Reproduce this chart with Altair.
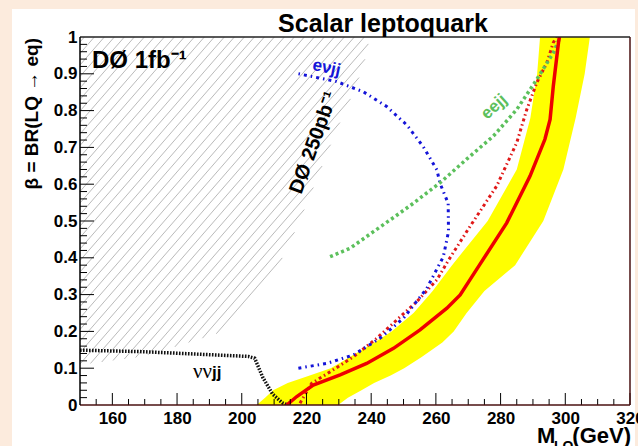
import altair as alt
import numpy as np
import pandas as pd

# ---------------- data: M_LQ (GeV) vs beta ----------------
# +-1 sigma band around the observed limit, sampled on a common beta grid
band_beta = [0.0, 0.02, 0.04, 0.06, 0.08, 0.10, 0.13, 0.17, 0.20, 0.25, 0.31, 0.38, 0.50, 0.64, 0.78, 0.90, 1.0]
band_lo = [204.6, 207.2, 209.7, 214.2, 221.0, 227.5, 233.3, 241.0, 246.3, 253.1, 259.0, 265.0, 276.0, 285.0, 289.2, 291.3, 292.2]
band_hi = [229.8, 232.8, 237.0, 240.9, 246.0, 250.2, 255.5, 262.0, 265.5, 269.5, 275.0, 284.5, 293.2, 299.4, 303.2, 306.0, 307.6]

# observed combined limit (solid red)
obs_m = [213.9, 217.0, 222.1, 230.4, 238.6, 246.9, 255.1, 263.4, 267.5, 273.6, 281.9, 289.1, 293.7, 295.3, 296.3, 297.9, 298.2]
obs_b = [0.0, 0.023, 0.054, 0.082, 0.113, 0.154, 0.204, 0.263, 0.299, 0.382, 0.495, 0.622, 0.722, 0.776, 0.867, 0.985, 1.0]

# expected combined limit (dotted red)
exp_m = [218.0, 221.6, 227.3, 234.5, 241.7, 247.9, 254.1, 260.3, 264.0, 270.6, 278.8, 285.0, 288.1, 291.2, 294.3, 296.3, 297.3]
exp_b = [0.005, 0.059, 0.090, 0.131, 0.181, 0.231, 0.281, 0.340, 0.395, 0.486, 0.595, 0.713, 0.803, 0.876, 0.930, 0.985, 1.0]

# e nu jj channel (blue)
enujj_m = [217.5, 226.3, 234.5, 242.7, 250.0, 257.2, 262.3, 263.9, 263.8, 261.3, 260.3, 256.1, 251.0, 244.8, 237.6, 229.3, 217.0]
enujj_b = [0.100, 0.113, 0.136, 0.181, 0.236, 0.317, 0.403, 0.471, 0.548, 0.602, 0.639, 0.702, 0.761, 0.811, 0.851, 0.879, 0.901]

# e e jj channel (green)
eejj_m = [227.3, 233.5, 240.7, 247.0, 253.0, 261.3, 269.5, 277.8, 285.0, 291.2, 296.3, 298.4]
eejj_b = [0.403, 0.426, 0.471, 0.510, 0.548, 0.604, 0.668, 0.731, 0.803, 0.885, 0.957, 1.0]

# nu nu jj channel (black)
nunujj_m = [150.0, 169.0, 202.0, 204.0, 206.5, 209.5, 212.5, 214.2]
nunujj_b = [0.149, 0.145, 0.132, 0.127, 0.075, 0.030, 0.006, 0.0]

# boundary of the earlier D0 250 pb^-1 exclusion (hatched)
excl_m = [150.0, 169.0, 179.4, 192.7, 200.0, 208.2, 214.4, 220.6, 225.2, 229.3, 233.5, 237.6, 239.6]
excl_b = [0.109, 0.131, 0.158, 0.195, 0.258, 0.330, 0.430, 0.557, 0.657, 0.747, 0.829, 0.919, 1.0]

x_ticks = [160, 180, 200, 220, 240, 260, 280, 300, 320]
y_ticks = [0.0, 0.1, 0.2, 0.3, 0.4, 0.5, 0.6, 0.7, 0.8, 0.9, 1.0]

# ---------------- layout ----------------
W, H = 550, 368
X_DOM = [150, 320]
FONT = "Liberation Sans"

xs = alt.Scale(domain=X_DOM, nice=False, zero=False)
ys = alt.Scale(domain=[0, 1], nice=False, zero=False)
one = pd.DataFrame({"k": [0]})

x_axis = alt.Axis(
    values=x_ticks, format="d", title=None, ticks=False, tickSize=0, domain=False, grid=False,
    labelFont=FONT, labelFontWeight="bold", labelFontSize=17, labelColor="black",
    labelPadding=5, labelFlush=False, labelOverlap=False, zindex=2,
)
y_axis = alt.Axis(
    values=y_ticks, format=".1~f", title=None, ticks=False, tickSize=0, domain=False, grid=False,
    labelFont=FONT, labelFontWeight="bold", labelFontSize=17, labelColor="black",
    labelPadding=3, labelFlush=False, labelOverlap=False, zindex=2,
)


def X(field):
    return alt.X(field, scale=xs, axis=x_axis)


def Y(field):
    return alt.Y(field, scale=ys, axis=y_axis)


def seq_df(m, b):
    return pd.DataFrame({"m": m, "b": b, "i": list(range(len(m)))})


def curve(m, b, color, width, dash=None):
    kw = dict(color=color, strokeWidth=width, clip=True)
    if dash is not None:
        kw["strokeDash"] = dash
    return alt.Chart(seq_df(m, b)).mark_line(**kw).encode(
        x=X("m:Q"), y=Y("b:Q"), order="i:Q",
    )


def label(text, m, b, **kw):
    return alt.Chart(pd.DataFrame({"m": [m], "b": [b], "t": [text]})).mark_text(**kw).encode(
        x=X("m:Q"), y=Y("b:Q"), text="t:N",
    )


def pixel_text(text, x, y, **kw):
    return alt.Chart(one).mark_text(text=text, **kw).encode(x=alt.value(x), y=alt.value(y))


# white panel behind the plot
panel = alt.Chart(one).mark_rect(color="white").encode(
    x=alt.value(-68), x2=alt.value(555), y=alt.value(-28), y2=alt.value(420)
)

# hatching of the excluded region: parallel lines clipped to the region
HATCH_SLOPE = 1.15   # slope in screen pixels
HATCH_STEP = 10.0    # horizontal spacing in pixels
px_m = W / (X_DOM[1] - X_DOM[0])
hu = (np.array(excl_m) - X_DOM[0]) * px_m
hv = np.array(excl_b) * H
u = np.linspace(0, hu[-1], 4000)
F = np.interp(u, hu, hv)
rows = []
for c in np.arange(-1500, H, HATCH_SLOPE * HATCH_STEP):
    v = HATCH_SLOPE * u + c
    inside = (v >= F) & (v <= H)
    if inside.sum() < 2:
        continue
    idx = np.nonzero(inside)[0]
    a, z = idx[0], idx[-1]
    rows.append({
        "m1": X_DOM[0] + u[a] / px_m, "b1": v[a] / H,
        "m2": X_DOM[0] + u[z] / px_m, "b2": v[z] / H,
    })
hatch = alt.Chart(pd.DataFrame(rows)).mark_rule(color="#a8a8a8", strokeWidth=0.8).encode(
    x=X("m1:Q"), y=Y("b1:Q"), x2="m2:Q", y2="b2:Q",
)

band = alt.Chart(pd.DataFrame({"b": band_beta, "lo": band_lo, "hi": band_hi})).mark_area(
    color="#ffff00", orient="horizontal", clip=True
).encode(
    y=Y("b:Q"), x=X("lo:Q"), x2="hi:Q",
)

expected = curve(exp_m, exp_b, "#e01818", 3, [3, 3, 1.5, 3])
enujj = curve(enujj_m, enujj_b, "#1414d8", 3, [3, 4, 1.5, 4])
eejj = curve(eejj_m, eejj_b, "#5cc05c", 3.5, [3, 3])
nunujj = curve(nunujj_m, nunujj_b, "#111111", 3.5, [1.6, 1.4])
observed = curve(obs_m, obs_b, "#ee0000", 3.5)


# axis ticks drawn inside the frame
def xticks(vals, length):
    return alt.Chart(pd.DataFrame({"m": vals})).mark_rule(color="black", strokeWidth=1).encode(
        x=X("m:Q"), y=alt.value(H), y2=alt.value(H - length)
    )


def yticks(vals, length):
    return alt.Chart(pd.DataFrame({"b": vals})).mark_rule(color="black", strokeWidth=1).encode(
        y=Y("b:Q"), x=alt.value(0), x2=alt.value(length)
    )


x_minor = [v for v in range(155, 320, 5) if v % 20 != 0]
x_major = [v for v in range(160, 321, 20)]
y_minor = [round(v * 0.02, 2) for v in range(1, 50) if v % 5 != 0]
y_major = [round(v * 0.1, 1) for v in range(1, 10)]

frame = [
    alt.Chart(one).mark_rule(color="#4a1010", strokeWidth=1.5).encode(
        x=alt.value(0), x2=alt.value(W), y=alt.value(H)),
    alt.Chart(one).mark_rule(color="#4a1010", strokeWidth=1.5).encode(
        x=alt.value(W), y=alt.value(0), y2=alt.value(H)),
    alt.Chart(one).mark_rule(color="#222222", strokeWidth=1.5).encode(
        x=alt.value(0), x2=alt.value(W), y=alt.value(0)),
    alt.Chart(one).mark_rule(color="black", strokeWidth=1.5).encode(
        x=alt.value(0), y=alt.value(0), y2=alt.value(H)),
]

texts = [
    pixel_text("Scalar leptoquark", 303, -5, font=FONT, fontSize=25, fontWeight="bold",
               align="center", baseline="alphabetic", color="black"),
    pixel_text("β = BR(LQ → eq)", -48, 1, font=FONT, fontSize=19, fontWeight="bold",
               angle=270, align="right", baseline="middle", color="black"),
    pixel_text("M", 457, 406, font=FONT, fontSize=22, fontWeight="bold",
               align="left", baseline="alphabetic", color="black"),
    pixel_text("LQ", 474, 414, font=FONT, fontSize=14, fontWeight="bold",
               align="left", baseline="alphabetic", color="black"),
    pixel_text("(GeV)", 551, 406, font=FONT, fontSize=22, fontWeight="bold",
               align="right", baseline="alphabetic", color="black"),
    label("DØ 1fb⁻¹", 153.7, 0.916, font=FONT, fontSize=24, fontWeight="bold",
          align="left", baseline="alphabetic", color="black"),
    label("DØ 250pb⁻¹", 222.3, 0.713, font=FONT, fontSize=20, fontWeight="bold",
          angle=290, align="center", baseline="middle", color="black"),
    label("eνjj", 226.2, 0.916, font=FONT, fontSize=17, fontWeight="bold",
          angle=12, align="center", baseline="middle", color="#1414d8"),
    label("eejj", 278.0, 0.81, font=FONT, fontSize=17, fontWeight="bold",
          angle=318, align="center", baseline="middle", color="#5cc05c"),
    label("νν", 190.8, 0.073, font="Liberation Serif", fontSize=21,
          align="right", baseline="alphabetic", color="black"),
    label("jj", 190.8, 0.073, font=FONT, fontSize=17, fontWeight="bold",
          align="left", baseline="alphabetic", color="black"),
]

chart = alt.layer(
    panel, hatch, band, expected, enujj, eejj, nunujj, observed,
    xticks(x_minor, 6), xticks(x_major, 12), yticks(y_minor, 7), yticks(y_major, 14),
    *frame, *texts,
).properties(
    width=W, height=H,
    padding={"left": 80, "top": 37, "right": 8, "bottom": 41},
    autosize=alt.AutoSizeParams(type="none"),
).configure(background="#fcebdd").configure_view(stroke=None)

chart.save("out.html", embed_options={"renderer": "svg", "actions": False})
